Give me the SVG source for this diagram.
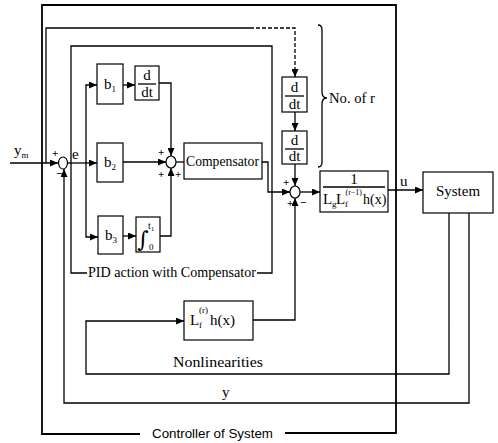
<svg xmlns="http://www.w3.org/2000/svg" width="498" height="443" viewBox="0 0 498 443">
<style>
.ln{fill:none;stroke:#000;stroke-width:1.3}
.thk{fill:none;stroke:#000;stroke-width:1.8}
.bx{fill:#fff;stroke:#000;stroke-width:1.2}
.sm{fill:#fff;stroke:#000;stroke-width:1.2}
.t{font-family:"Liberation Serif","DejaVu Serif",serif;font-size:15px;fill:#000}
.s{font-family:"Liberation Serif","DejaVu Serif",serif;font-size:11px;font-weight:bold;fill:#000}
.sub{font-family:"Liberation Serif","DejaVu Serif",serif;font-size:9px;fill:#000}
.lim{font-family:"Liberation Serif","DejaVu Serif",serif;font-size:10px;fill:#000}
.sans{font-family:"Liberation Sans",Arial,sans-serif;font-size:13px;fill:#000}
</style>
<defs>
<marker id="ar" markerWidth="8" markerHeight="7" refX="8" refY="3.5" orient="auto" markerUnits="userSpaceOnUse">
<path d="M0,0 L8,3.5 L0,7 z" fill="#000"/>
</marker>
</defs>
<rect width="498" height="443" fill="#fff"/>

<g id="connectors">
<path class="thk" d="M140,434 H42 V5 H396 V433 H285"/>
<path class="ln" d="M87,273 H71 V46 H272 V273 H257"/>
<path class="ln" d="M10,163 H58" marker-end="url(#ar)"/>
<path class="ln" d="M68,163 H97" marker-end="url(#ar)"/>
<path class="ln" d="M86,163 V85 H97" marker-end="url(#ar)"/>
<path class="ln" d="M86,163 V237 H98" marker-end="url(#ar)"/>
<path class="ln" d="M123,85 H135" marker-end="url(#ar)"/>
<path class="ln" d="M159,83 H171 V156" marker-end="url(#ar)"/>
<path class="ln" d="M123,162 H166" marker-end="url(#ar)"/>
<path class="ln" d="M123,236 H136" marker-end="url(#ar)"/>
<path class="ln" d="M160,236 H171 V168" marker-end="url(#ar)"/>
<path class="ln" d="M176,162 H184"/>
<path class="ln" d="M262,162 H268 V192 H290" marker-end="url(#ar)"/>
<path class="ln" d="M46,163 V28 H250"/>
<path class="ln" d="M250,28 H295 V77" stroke-dasharray="4,2" marker-end="url(#ar)"/>
<path class="ln" d="M295,112 V131" marker-end="url(#ar)"/>
<path class="ln" d="M295,164 V186" marker-end="url(#ar)"/>
<path class="ln" d="M300,192 H320" marker-end="url(#ar)"/>
<path class="ln" d="M388,190 H423" marker-end="url(#ar)"/>
<path class="ln" d="M253,320 H295 V198" marker-end="url(#ar)"/>
<path class="ln" d="M449,213 V374 H86 V321 H184" marker-end="url(#ar)"/>
<path class="ln" d="M469,213 V403 H64 V169" marker-end="url(#ar)"/>
<path class="ln" d="M318,25 Q322,25 322,30 V92 Q322,98 327,98 Q322,98 322,104 V162 Q322,167 318,167"/>
</g>

<g id="sum1">
<ellipse class="sm" cx="63" cy="163" rx="4.5" ry="6"/>
<text class="s" x="52" y="157">+</text>
<text class="s" x="56" y="177">−</text>
</g>
<g id="ym">
<text class="t" x="14" y="155">y<tspan class="sub" dy="3">m</tspan></text>
</g>
<g id="e-label"><text class="t" x="72" y="159">e</text></g>

<g id="b1">
<rect class="bx" x="97" y="64" width="26" height="40"/>
<text class="t" x="104" y="89">b<tspan class="sub" dy="3">1</tspan></text>
</g>
<g id="ddt1">
<rect class="bx" x="135" y="66" width="24" height="34"/>
<text class="t" x="147" y="80" text-anchor="middle">d</text>
<line class="ln" x1="138" y1="84" x2="156" y2="84"/>
<text class="t" x="147" y="97" text-anchor="middle">dt</text>
</g>
<g id="b2">
<rect class="bx" x="97" y="143" width="26" height="39"/>
<text class="t" x="104" y="167">b<tspan class="sub" dy="3">2</tspan></text>
</g>
<g id="b3">
<rect class="bx" x="98" y="216" width="25" height="38"/>
<text class="t" x="105" y="240">b<tspan class="sub" dy="3">3</tspan></text>
</g>
<g id="integral">
<rect class="bx" x="136" y="217" width="24" height="35"/>
<text x="137" y="247" style="font-family:'DejaVu Serif',serif;font-size:22px">∫</text>
<text class="lim" x="148" y="229">t<tspan font-size="7" dy="2">1</tspan></text>
<text class="sub" x="149" y="250">0</text>
</g>
<g id="sum2">
<ellipse class="sm" cx="171" cy="162" rx="5" ry="6"/>
<text class="s" x="158" y="156">+</text>
<text class="s" x="158" y="178">+</text>
<text class="s" x="175" y="178">+</text>
</g>
<g id="compensator">
<rect class="bx" x="184" y="143" width="78" height="36"/>
<text class="t" x="186" y="166" textLength="73" lengthAdjust="spacingAndGlyphs">Compensator</text>
</g>
<g id="pid-label">
<text class="t" x="88" y="277" textLength="168" lengthAdjust="spacingAndGlyphs">PID action with Compensator</text>
</g>
<g id="ddt2">
<rect class="bx" x="282" y="77" width="25" height="35"/>
<text class="t" x="294.5" y="92" text-anchor="middle">d</text>
<line class="ln" x1="285" y1="96" x2="304" y2="96"/>
<text class="t" x="294.5" y="109" text-anchor="middle">dt</text>
</g>
<g id="ddt3">
<rect class="bx" x="282" y="131" width="25" height="33"/>
<text class="t" x="294.5" y="145" text-anchor="middle">d</text>
<line class="ln" x1="285" y1="149" x2="304" y2="149"/>
<text class="t" x="294.5" y="161" text-anchor="middle">dt</text>
</g>
<g id="brace-label"><text class="t" x="329" y="103" textLength="46" lengthAdjust="spacingAndGlyphs">No. of r</text></g>
<g id="sum3">
<ellipse class="sm" cx="295" cy="192" rx="5" ry="6"/>
<text class="s" x="283" y="186">+</text>
<text class="s" x="287" y="207">+</text>
<text class="s" x="300" y="206">−</text>
</g>
<g id="inverse">
<rect class="bx" x="320" y="171" width="68" height="41"/>
<text class="t" x="354" y="184" text-anchor="middle">1</text>
<line class="ln" x1="323" y1="187" x2="385" y2="187"/>
<text class="t" x="323" y="204">L</text>
<text class="sub" x="332" y="207">g</text>
<text class="t" x="336" y="204">L</text>
<text class="sub" x="345" y="207">f</text>
<text class="sub" x="345.5" y="195" style="font-size:8px">(r−1)</text>
<text class="t" x="363" y="204" style="font-size:14px">h(x)</text>
</g>
<g id="u-label"><text class="t" x="400" y="186">u</text></g>
<g id="system">
<rect class="bx" x="423" y="172" width="70" height="41"/>
<text class="t" x="458" y="196" text-anchor="middle">System</text>
</g>
<g id="lfh">
<rect class="bx" x="184" y="301" width="69" height="39"/>
<text class="t" x="190" y="325">L</text>
<text class="sub" x="199" y="328">f</text>
<text class="sub" x="199" y="313">(r)</text>
<text class="t" x="210" y="325">h(x)</text>
</g>
<g id="nonlin-label"><text class="t" x="173" y="367" textLength="90" lengthAdjust="spacingAndGlyphs">Nonlinearities</text></g>
<g id="y-label"><text class="t" x="222" y="397">y</text></g>
<g id="controller-label"><text class="sans" x="152" y="438" textLength="121" lengthAdjust="spacingAndGlyphs">Controller of System</text></g>
</svg>
